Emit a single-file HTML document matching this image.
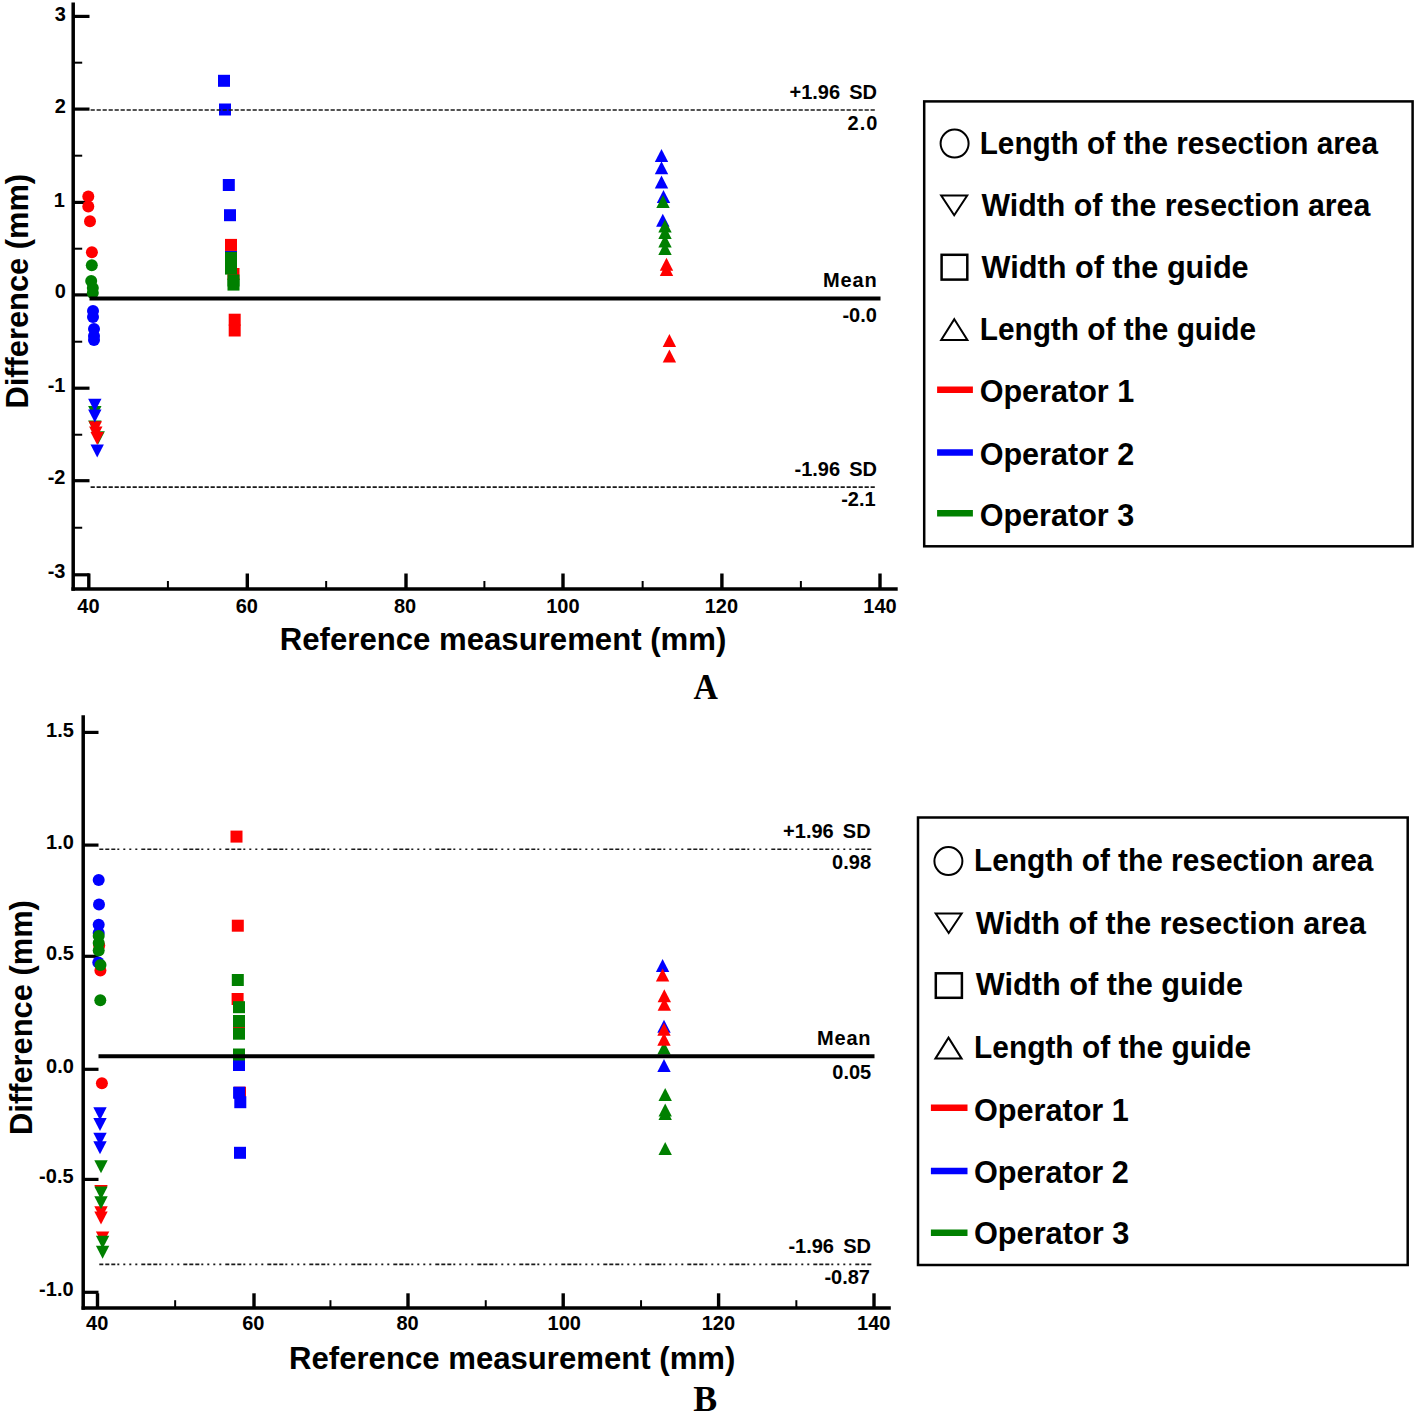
<!DOCTYPE html>
<html><head><meta charset="utf-8"><style>
html,body{margin:0;padding:0;background:#fff;}
body{width:1416px;height:1414px;overflow:hidden;}
svg{display:block;}
</style></head><body>
<svg width="1416" height="1414" viewBox="0 0 1416 1414">
<rect width="1416" height="1414" fill="#fff"/>
<line x1="73.20" y1="2.50" x2="73.20" y2="590.80" stroke="#000" stroke-width="3.5" />
<line x1="71.40" y1="589.00" x2="897.70" y2="589.00" stroke="#000" stroke-width="3.5" />
<line x1="73.20" y1="16.40" x2="89.50" y2="16.40" stroke="#000" stroke-width="3.2" />
<line x1="73.20" y1="109.10" x2="89.50" y2="109.10" stroke="#000" stroke-width="3.2" />
<line x1="73.20" y1="202.40" x2="89.50" y2="202.40" stroke="#000" stroke-width="3.2" />
<line x1="73.20" y1="294.90" x2="89.50" y2="294.90" stroke="#000" stroke-width="3.2" />
<line x1="73.20" y1="388.20" x2="89.50" y2="388.20" stroke="#000" stroke-width="3.2" />
<line x1="73.20" y1="480.70" x2="89.50" y2="480.70" stroke="#000" stroke-width="3.2" />
<line x1="73.20" y1="574.80" x2="89.50" y2="574.80" stroke="#000" stroke-width="3.2" />
<line x1="73.20" y1="62.68" x2="82.20" y2="62.68" stroke="#000" stroke-width="2" />
<line x1="73.20" y1="155.69" x2="82.20" y2="155.69" stroke="#000" stroke-width="2" />
<line x1="73.20" y1="248.70" x2="82.20" y2="248.70" stroke="#000" stroke-width="2" />
<line x1="73.20" y1="341.71" x2="82.20" y2="341.71" stroke="#000" stroke-width="2" />
<line x1="73.20" y1="434.73" x2="82.20" y2="434.73" stroke="#000" stroke-width="2" />
<line x1="73.20" y1="527.74" x2="82.20" y2="527.74" stroke="#000" stroke-width="2" />
<line x1="88.80" y1="589.00" x2="88.80" y2="573.50" stroke="#000" stroke-width="3.4" />
<line x1="247.30" y1="589.00" x2="247.30" y2="573.50" stroke="#000" stroke-width="3.4" />
<line x1="406.00" y1="589.00" x2="406.00" y2="573.50" stroke="#000" stroke-width="3.4" />
<line x1="563.00" y1="589.00" x2="563.00" y2="573.50" stroke="#000" stroke-width="3.4" />
<line x1="721.90" y1="589.00" x2="721.90" y2="573.50" stroke="#000" stroke-width="3.4" />
<line x1="880.00" y1="589.00" x2="880.00" y2="573.50" stroke="#000" stroke-width="3.4" />
<line x1="167.92" y1="589.00" x2="167.92" y2="581.00" stroke="#000" stroke-width="2" />
<line x1="326.16" y1="589.00" x2="326.16" y2="581.00" stroke="#000" stroke-width="2" />
<line x1="484.40" y1="589.00" x2="484.40" y2="581.00" stroke="#000" stroke-width="2" />
<line x1="642.64" y1="589.00" x2="642.64" y2="581.00" stroke="#000" stroke-width="2" />
<line x1="800.88" y1="589.00" x2="800.88" y2="581.00" stroke="#000" stroke-width="2" />
<circle cx="88.3" cy="196.5" r="6.0" fill="#FF0000"/>
<circle cx="88.3" cy="206.5" r="6.0" fill="#FF0000"/>
<circle cx="90" cy="221.3" r="6.0" fill="#FF0000"/>
<circle cx="91.9" cy="252.2" r="6.0" fill="#FF0000"/>
<circle cx="91.8" cy="265.2" r="6.0" fill="#008000"/>
<circle cx="91.2" cy="281" r="6.0" fill="#008000"/>
<circle cx="92.8" cy="288" r="6.0" fill="#008000"/>
<circle cx="92.8" cy="293" r="6.0" fill="#008000"/>
<circle cx="93" cy="311" r="6.0" fill="#0000FF"/>
<circle cx="93" cy="317" r="6.0" fill="#0000FF"/>
<circle cx="94" cy="329" r="6.0" fill="#0000FF"/>
<circle cx="94" cy="336" r="6.0" fill="#0000FF"/>
<circle cx="94" cy="340" r="6.0" fill="#0000FF"/>
<polygon points="88.10,406.00 101.50,406.00 94.80,419.00" fill="#008000"/>
<polygon points="88.10,420.40 101.50,420.40 94.80,433.40" fill="#008000"/>
<polygon points="91.50,431.20 104.90,431.20 98.20,444.20" fill="#008000"/>
<polygon points="88.60,421.30 102.00,421.30 95.30,434.30" fill="#FF0000"/>
<polygon points="89.10,426.50 102.50,426.50 95.80,439.50" fill="#FF0000"/>
<polygon points="90.50,432.00 103.90,432.00 97.20,445.00" fill="#FF0000"/>
<polygon points="88.10,398.80 101.50,398.80 94.80,411.80" fill="#0000FF"/>
<polygon points="88.10,409.60 101.50,409.60 94.80,422.60" fill="#0000FF"/>
<polygon points="90.50,444.60 103.90,444.60 97.20,457.60" fill="#0000FF"/>
<rect x="218.00" y="74.80" width="12.0" height="12.0" fill="#0000FF"/>
<rect x="219.00" y="103.50" width="12.0" height="12.0" fill="#0000FF"/>
<rect x="222.80" y="179.00" width="12.0" height="12.0" fill="#0000FF"/>
<rect x="224.00" y="209.20" width="12.0" height="12.0" fill="#0000FF"/>
<rect x="225.00" y="250.50" width="12.0" height="12.0" fill="#0000FF"/>
<rect x="225.00" y="238.90" width="12.0" height="12.0" fill="#FF0000"/>
<rect x="227.50" y="268.00" width="12.0" height="12.0" fill="#FF0000"/>
<rect x="228.70" y="313.70" width="12.0" height="12.0" fill="#FF0000"/>
<rect x="228.70" y="324.50" width="12.0" height="12.0" fill="#FF0000"/>
<rect x="225.00" y="251.80" width="12.0" height="12.0" fill="#008000"/>
<rect x="225.00" y="262.60" width="12.0" height="12.0" fill="#008000"/>
<rect x="227.50" y="274.50" width="12.0" height="12.0" fill="#008000"/>
<rect x="227.50" y="278.60" width="12.0" height="12.0" fill="#008000"/>
<polygon points="661.50,148.90 668.20,161.90 654.80,161.90" fill="#0000FF"/>
<polygon points="661.50,161.20 668.20,174.20 654.80,174.20" fill="#0000FF"/>
<polygon points="661.50,175.60 668.20,188.60 654.80,188.60" fill="#0000FF"/>
<polygon points="663.50,190.00 670.20,203.00 656.80,203.00" fill="#0000FF"/>
<polygon points="662.80,213.80 669.50,226.80 656.10,226.80" fill="#0000FF"/>
<polygon points="663.00,195.00 669.70,208.00 656.30,208.00" fill="#008000"/>
<polygon points="665.00,219.60 671.70,232.60 658.30,232.60" fill="#008000"/>
<polygon points="665.00,226.00 671.70,239.00 658.30,239.00" fill="#008000"/>
<polygon points="665.00,234.40 671.70,247.40 658.30,247.40" fill="#008000"/>
<polygon points="665.00,241.90 671.70,254.90 658.30,254.90" fill="#008000"/>
<polygon points="666.50,257.70 673.20,270.70 659.80,270.70" fill="#FF0000"/>
<polygon points="666.50,263.10 673.20,276.10 659.80,276.10" fill="#FF0000"/>
<polygon points="669.40,334.00 676.10,347.00 662.70,347.00" fill="#FF0000"/>
<polygon points="669.40,349.50 676.10,362.50 662.70,362.50" fill="#FF0000"/>
<line x1="90.60" y1="110.00" x2="876.30" y2="110.00" stroke="#1a1a1a" stroke-width="1.6" stroke-dasharray="4.2 1.8"/>
<line x1="90.60" y1="487.10" x2="876.30" y2="487.10" stroke="#1a1a1a" stroke-width="1.6" stroke-dasharray="4.2 1.8"/>
<line x1="89.50" y1="298.40" x2="880.50" y2="298.40" stroke="#000" stroke-width="4" />
<line x1="83.20" y1="715.20" x2="83.20" y2="1309.80" stroke="#000" stroke-width="3.5" />
<line x1="81.60" y1="1308.00" x2="890.80" y2="1308.00" stroke="#000" stroke-width="3.5" />
<line x1="83.20" y1="732.40" x2="98.50" y2="732.40" stroke="#000" stroke-width="3.2" />
<line x1="83.20" y1="845.10" x2="98.50" y2="845.10" stroke="#000" stroke-width="3.2" />
<line x1="83.20" y1="956.30" x2="98.50" y2="956.30" stroke="#000" stroke-width="3.2" />
<line x1="83.20" y1="1069.30" x2="98.50" y2="1069.30" stroke="#000" stroke-width="3.2" />
<line x1="83.20" y1="1179.40" x2="98.50" y2="1179.40" stroke="#000" stroke-width="3.2" />
<line x1="83.20" y1="1292.30" x2="98.50" y2="1292.30" stroke="#000" stroke-width="3.2" />
<line x1="97.50" y1="1308.00" x2="97.50" y2="1293.30" stroke="#000" stroke-width="3.4" />
<line x1="254.00" y1="1308.00" x2="254.00" y2="1293.30" stroke="#000" stroke-width="3.4" />
<line x1="408.00" y1="1308.00" x2="408.00" y2="1293.30" stroke="#000" stroke-width="3.4" />
<line x1="563.20" y1="1308.00" x2="563.20" y2="1293.30" stroke="#000" stroke-width="3.4" />
<line x1="718.60" y1="1308.00" x2="718.60" y2="1293.30" stroke="#000" stroke-width="3.4" />
<line x1="874.00" y1="1308.00" x2="874.00" y2="1293.30" stroke="#000" stroke-width="3.4" />
<line x1="175.15" y1="1308.00" x2="175.15" y2="1300.20" stroke="#000" stroke-width="2" />
<line x1="330.45" y1="1308.00" x2="330.45" y2="1300.20" stroke="#000" stroke-width="2" />
<line x1="485.75" y1="1308.00" x2="485.75" y2="1300.20" stroke="#000" stroke-width="2" />
<line x1="641.05" y1="1308.00" x2="641.05" y2="1300.20" stroke="#000" stroke-width="2" />
<line x1="796.35" y1="1308.00" x2="796.35" y2="1300.20" stroke="#000" stroke-width="2" />
<circle cx="98.7" cy="879.9" r="6.0" fill="#0000FF"/>
<circle cx="99" cy="904.5" r="6.0" fill="#0000FF"/>
<circle cx="98.7" cy="924.7" r="6.0" fill="#0000FF"/>
<circle cx="98.7" cy="933" r="6.0" fill="#0000FF"/>
<circle cx="98.3" cy="962.5" r="6.0" fill="#0000FF"/>
<circle cx="99.2" cy="945.5" r="6.0" fill="#FF0000"/>
<circle cx="100.4" cy="970.5" r="6.0" fill="#FF0000"/>
<circle cx="101.9" cy="1083.3" r="6.0" fill="#FF0000"/>
<circle cx="98.7" cy="936" r="6.0" fill="#008000"/>
<circle cx="98.7" cy="943" r="6.0" fill="#008000"/>
<circle cx="98.7" cy="950.5" r="6.0" fill="#008000"/>
<circle cx="100.5" cy="965" r="6.0" fill="#008000"/>
<circle cx="100.3" cy="1000.2" r="6.0" fill="#008000"/>
<polygon points="93.30,1107.30 106.70,1107.30 100.00,1120.30" fill="#0000FF"/>
<polygon points="93.30,1117.90 106.70,1117.90 100.00,1130.90" fill="#0000FF"/>
<polygon points="93.30,1132.70 106.70,1132.70 100.00,1145.70" fill="#0000FF"/>
<polygon points="93.30,1141.20 106.70,1141.20 100.00,1154.20" fill="#0000FF"/>
<polygon points="94.30,1185.00 107.70,1185.00 101.00,1198.00" fill="#FF0000"/>
<polygon points="94.30,1206.20 107.70,1206.20 101.00,1219.20" fill="#FF0000"/>
<polygon points="94.30,1211.50 107.70,1211.50 101.00,1224.50" fill="#FF0000"/>
<polygon points="95.90,1231.60 109.30,1231.60 102.60,1244.60" fill="#FF0000"/>
<polygon points="94.30,1160.30 107.70,1160.30 101.00,1173.30" fill="#008000"/>
<polygon points="94.30,1186.40 107.70,1186.40 101.00,1199.40" fill="#008000"/>
<polygon points="94.30,1196.30 107.70,1196.30 101.00,1209.30" fill="#008000"/>
<polygon points="95.90,1235.80 109.30,1235.80 102.60,1248.80" fill="#008000"/>
<polygon points="95.90,1245.70 109.30,1245.70 102.60,1258.70" fill="#008000"/>
<rect x="230.50" y="830.60" width="12.0" height="12.0" fill="#FF0000"/>
<rect x="231.80" y="919.70" width="12.0" height="12.0" fill="#FF0000"/>
<rect x="231.60" y="993.00" width="12.0" height="12.0" fill="#FF0000"/>
<rect x="233.00" y="1021.00" width="12.0" height="12.0" fill="#FF0000"/>
<rect x="234.00" y="1086.70" width="12.0" height="12.0" fill="#FF0000"/>
<rect x="233.00" y="1059.00" width="12.0" height="12.0" fill="#0000FF"/>
<rect x="233.10" y="1086.70" width="12.0" height="12.0" fill="#0000FF"/>
<rect x="234.30" y="1096.20" width="12.0" height="12.0" fill="#0000FF"/>
<rect x="234.00" y="1146.80" width="12.0" height="12.0" fill="#0000FF"/>
<rect x="231.80" y="974.00" width="12.0" height="12.0" fill="#008000"/>
<rect x="233.00" y="1001.20" width="12.0" height="12.0" fill="#008000"/>
<rect x="233.00" y="1015.00" width="12.0" height="12.0" fill="#008000"/>
<rect x="233.00" y="1027.70" width="12.0" height="12.0" fill="#008000"/>
<rect x="233.00" y="1048.50" width="12.0" height="12.0" fill="#008000"/>
<polygon points="662.60,958.90 669.30,971.90 655.90,971.90" fill="#0000FF"/>
<polygon points="664.00,1019.70 670.70,1032.70 657.30,1032.70" fill="#0000FF"/>
<polygon points="664.00,1059.00 670.70,1072.00 657.30,1072.00" fill="#0000FF"/>
<polygon points="664.00,1041.60 670.70,1054.60 657.30,1054.60" fill="#008000"/>
<polygon points="665.20,1088.00 671.90,1101.00 658.50,1101.00" fill="#008000"/>
<polygon points="665.20,1103.60 671.90,1116.60 658.50,1116.60" fill="#008000"/>
<polygon points="665.20,1107.00 671.90,1120.00 658.50,1120.00" fill="#008000"/>
<polygon points="665.20,1142.10 671.90,1155.10 658.50,1155.10" fill="#008000"/>
<polygon points="662.60,968.50 669.30,981.50 655.90,981.50" fill="#FF0000"/>
<polygon points="664.30,989.30 671.00,1002.30 657.60,1002.30" fill="#FF0000"/>
<polygon points="664.30,997.80 671.00,1010.80 657.60,1010.80" fill="#FF0000"/>
<polygon points="664.00,1022.70 670.70,1035.70 657.30,1035.70" fill="#FF0000"/>
<polygon points="664.00,1032.70 670.70,1045.70 657.30,1045.70" fill="#FF0000"/>
<line x1="99.30" y1="849.20" x2="871.90" y2="849.20" stroke="#1a1a1a" stroke-width="1.6" stroke-dasharray="4 2 4 2 4 2 2 4 2 4 2 4 2 4"/>
<line x1="99.30" y1="1264.40" x2="871.80" y2="1264.40" stroke="#1a1a1a" stroke-width="1.6" stroke-dasharray="4 2 4 2 4 2 2 4 2 4 2 4 2 4"/>
<line x1="98.50" y1="1056.20" x2="874.50" y2="1056.20" stroke="#000" stroke-width="4" />
<rect x="924.2" y="101.4" width="488.4" height="444.9" fill="none" stroke="#000" stroke-width="2.5"/>
<circle cx="954.6" cy="143.6" r="14" fill="none" stroke="#000" stroke-width="2"/><polygon points="941.2,195.6 967.2,195.6 954.2,215.2" fill="none" stroke="#000" stroke-width="2"/><rect x="941.6" y="254.8" width="25.7" height="24.8" fill="none" stroke="#000" stroke-width="2.5"/><polygon points="954.3,319.2 967.4,340 941.2,340" fill="none" stroke="#000" stroke-width="2"/><line x1="937.1" y1="389.7" x2="972.9" y2="389.7" stroke="#FF0000" stroke-width="6.5"/><line x1="937.1" y1="452.4" x2="972.9" y2="452.4" stroke="#0000FF" stroke-width="6.5"/><line x1="937.1" y1="513.3" x2="972.9" y2="513.3" stroke="#008000" stroke-width="6.5"/>
<rect x="918" y="817.5" width="489.7" height="447.5" fill="none" stroke="#000" stroke-width="2.5"/>
<circle cx="948.4" cy="861.1" r="14" fill="none" stroke="#000" stroke-width="2"/><polygon points="935.7,913.5 961.7,913.5 948.7,933" fill="none" stroke="#000" stroke-width="2"/><rect x="935.8" y="973.3" width="26.1" height="24.5" fill="none" stroke="#000" stroke-width="2.5"/><polygon points="948.5,1037.6 961.6,1058.6 935.4,1058.6" fill="none" stroke="#000" stroke-width="2"/><line x1="930.9" y1="1107.7" x2="967.5" y2="1107.7" stroke="#FF0000" stroke-width="6.5"/><line x1="930.9" y1="1171" x2="967.5" y2="1171" stroke="#0000FF" stroke-width="6.5"/><line x1="930.9" y1="1232.7" x2="967.5" y2="1232.7" stroke="#008000" stroke-width="6.5"/>
<text x="54.70" y="20.80" font-family='"Liberation Sans", sans-serif' font-weight="bold" font-size="20" letter-spacing="0" xml:space="preserve">3</text>
<text x="54.70" y="113.00" font-family='"Liberation Sans", sans-serif' font-weight="bold" font-size="20" letter-spacing="0" xml:space="preserve">2</text>
<text x="53.70" y="206.70" font-family='"Liberation Sans", sans-serif' font-weight="bold" font-size="20" letter-spacing="0" xml:space="preserve">1</text>
<text x="54.70" y="297.80" font-family='"Liberation Sans", sans-serif' font-weight="bold" font-size="20" letter-spacing="0" xml:space="preserve">0</text>
<text x="47.70" y="391.60" font-family='"Liberation Sans", sans-serif' font-weight="bold" font-size="20" letter-spacing="0" xml:space="preserve">-1</text>
<text x="47.70" y="484.00" font-family='"Liberation Sans", sans-serif' font-weight="bold" font-size="20" letter-spacing="0" xml:space="preserve">-2</text>
<text x="47.70" y="577.80" font-family='"Liberation Sans", sans-serif' font-weight="bold" font-size="20" letter-spacing="0" xml:space="preserve">-3</text>
<text x="77.35" y="612.50" font-family='"Liberation Sans", sans-serif' font-weight="bold" font-size="20" letter-spacing="0" xml:space="preserve">40</text>
<text x="235.70" y="612.50" font-family='"Liberation Sans", sans-serif' font-weight="bold" font-size="20" letter-spacing="0" xml:space="preserve">60</text>
<text x="393.90" y="612.50" font-family='"Liberation Sans", sans-serif' font-weight="bold" font-size="20" letter-spacing="0" xml:space="preserve">80</text>
<text x="546.25" y="612.50" font-family='"Liberation Sans", sans-serif' font-weight="bold" font-size="20" letter-spacing="0" xml:space="preserve">100</text>
<text x="704.70" y="612.50" font-family='"Liberation Sans", sans-serif' font-weight="bold" font-size="20" letter-spacing="0" xml:space="preserve">120</text>
<text x="863.35" y="612.50" font-family='"Liberation Sans", sans-serif' font-weight="bold" font-size="20" letter-spacing="0" xml:space="preserve">140</text>
<text x="789.50" y="98.70" font-family='"Liberation Sans", sans-serif' font-weight="bold" font-size="20" letter-spacing="0" xml:space="preserve">+1.96 <tspan dx="3.6">SD</tspan></text>
<text x="847.60" y="129.90" font-family='"Liberation Sans", sans-serif' font-weight="bold" font-size="20" letter-spacing="1" xml:space="preserve">2.0</text>
<text x="823.10" y="287.20" font-family='"Liberation Sans", sans-serif' font-weight="bold" font-size="20" letter-spacing="0.8" xml:space="preserve">Mean</text>
<text x="842.40" y="321.80" font-family='"Liberation Sans", sans-serif' font-weight="bold" font-size="20" letter-spacing="0" xml:space="preserve">-0.0</text>
<text x="794.50" y="475.70" font-family='"Liberation Sans", sans-serif' font-weight="bold" font-size="20" letter-spacing="0" xml:space="preserve">-1.96 <tspan dx="3.6">SD</tspan></text>
<text x="841.20" y="505.90" font-family='"Liberation Sans", sans-serif' font-weight="bold" font-size="20" letter-spacing="0" xml:space="preserve">-2.1</text>
<text x="279.80" y="650.10" font-family='"Liberation Sans", sans-serif' font-weight="bold" font-size="31" letter-spacing="0" xml:space="preserve" textLength="446.53" lengthAdjust="spacingAndGlyphs">Reference measurement (mm)</text>
<text x="0" y="0" transform="translate(28.00,408.60) rotate(-90)" font-family='"Liberation Sans", sans-serif' font-weight="bold" font-size="31.5" xml:space="preserve" textLength="234.73" lengthAdjust="spacingAndGlyphs">Difference (mm)</text>
<text x="693.40" y="699.00" font-family='"Liberation Serif", serif' font-weight="bold" font-size="36.5" letter-spacing="0" xml:space="preserve" textLength="24.43" lengthAdjust="spacingAndGlyphs">A</text>
<text x="46.10" y="736.80" font-family='"Liberation Sans", sans-serif' font-weight="bold" font-size="20" letter-spacing="0" xml:space="preserve">1.5</text>
<text x="46.10" y="848.60" font-family='"Liberation Sans", sans-serif' font-weight="bold" font-size="20" letter-spacing="0" xml:space="preserve">1.0</text>
<text x="46.10" y="960.10" font-family='"Liberation Sans", sans-serif' font-weight="bold" font-size="20" letter-spacing="0" xml:space="preserve">0.5</text>
<text x="46.10" y="1072.50" font-family='"Liberation Sans", sans-serif' font-weight="bold" font-size="20" letter-spacing="0" xml:space="preserve">0.0</text>
<text x="39.10" y="1183.20" font-family='"Liberation Sans", sans-serif' font-weight="bold" font-size="20" letter-spacing="0" xml:space="preserve">-0.5</text>
<text x="39.10" y="1296.40" font-family='"Liberation Sans", sans-serif' font-weight="bold" font-size="20" letter-spacing="0" xml:space="preserve">-1.0</text>
<text x="86.05" y="1329.90" font-family='"Liberation Sans", sans-serif' font-weight="bold" font-size="20" letter-spacing="0" xml:space="preserve">40</text>
<text x="242.20" y="1329.90" font-family='"Liberation Sans", sans-serif' font-weight="bold" font-size="20" letter-spacing="0" xml:space="preserve">60</text>
<text x="396.40" y="1329.90" font-family='"Liberation Sans", sans-serif' font-weight="bold" font-size="20" letter-spacing="0" xml:space="preserve">80</text>
<text x="547.60" y="1329.90" font-family='"Liberation Sans", sans-serif' font-weight="bold" font-size="20" letter-spacing="0" xml:space="preserve">100</text>
<text x="701.70" y="1329.90" font-family='"Liberation Sans", sans-serif' font-weight="bold" font-size="20" letter-spacing="0" xml:space="preserve">120</text>
<text x="857.05" y="1329.90" font-family='"Liberation Sans", sans-serif' font-weight="bold" font-size="20" letter-spacing="0" xml:space="preserve">140</text>
<text x="783.10" y="837.50" font-family='"Liberation Sans", sans-serif' font-weight="bold" font-size="20" letter-spacing="0" xml:space="preserve">+1.96 <tspan dx="3.6">SD</tspan></text>
<text x="832.10" y="868.70" font-family='"Liberation Sans", sans-serif' font-weight="bold" font-size="20" letter-spacing="0" xml:space="preserve">0.98</text>
<text x="817.00" y="1045.00" font-family='"Liberation Sans", sans-serif' font-weight="bold" font-size="20" letter-spacing="0.8" xml:space="preserve">Mean</text>
<text x="832.30" y="1078.50" font-family='"Liberation Sans", sans-serif' font-weight="bold" font-size="20" letter-spacing="0" xml:space="preserve">0.05</text>
<text x="788.40" y="1253.20" font-family='"Liberation Sans", sans-serif' font-weight="bold" font-size="20" letter-spacing="0" xml:space="preserve">-1.96 <tspan dx="3.6">SD</tspan></text>
<text x="824.40" y="1284.20" font-family='"Liberation Sans", sans-serif' font-weight="bold" font-size="20" letter-spacing="0" xml:space="preserve">-0.87</text>
<text x="289.00" y="1369.30" font-family='"Liberation Sans", sans-serif' font-weight="bold" font-size="31" letter-spacing="0" xml:space="preserve" textLength="446.43" lengthAdjust="spacingAndGlyphs">Reference measurement (mm)</text>
<text x="0" y="0" transform="translate(31.70,1134.90) rotate(-90)" font-family='"Liberation Sans", sans-serif' font-weight="bold" font-size="31.5" xml:space="preserve" textLength="234.73" lengthAdjust="spacingAndGlyphs">Difference (mm)</text>
<text x="693.20" y="1411.10" font-family='"Liberation Serif", serif' font-weight="bold" font-size="36.5" letter-spacing="0" xml:space="preserve" textLength="23.92" lengthAdjust="spacingAndGlyphs">B</text>
<text x="979.70" y="153.80" font-family='"Liberation Sans", sans-serif' font-weight="bold" font-size="31.5" letter-spacing="0" xml:space="preserve" textLength="398.24" lengthAdjust="spacingAndGlyphs">Length of the resection area</text>
<text x="981.50" y="215.80" font-family='"Liberation Sans", sans-serif' font-weight="bold" font-size="31.5" letter-spacing="0" xml:space="preserve" textLength="388.75" lengthAdjust="spacingAndGlyphs">Width of the resection area</text>
<text x="981.50" y="277.60" font-family='"Liberation Sans", sans-serif' font-weight="bold" font-size="31.5" letter-spacing="0" xml:space="preserve" textLength="267.18" lengthAdjust="spacingAndGlyphs">Width of the guide</text>
<text x="979.70" y="340.10" font-family='"Liberation Sans", sans-serif' font-weight="bold" font-size="31.5" letter-spacing="0" xml:space="preserve" textLength="276.45" lengthAdjust="spacingAndGlyphs">Length of the guide</text>
<text x="979.70" y="402.40" font-family='"Liberation Sans", sans-serif' font-weight="bold" font-size="31.5" letter-spacing="0" xml:space="preserve" textLength="154.54" lengthAdjust="spacingAndGlyphs">Operator 1</text>
<text x="979.70" y="464.80" font-family='"Liberation Sans", sans-serif' font-weight="bold" font-size="31.5" letter-spacing="0" xml:space="preserve" textLength="154.54" lengthAdjust="spacingAndGlyphs">Operator 2</text>
<text x="979.70" y="526.00" font-family='"Liberation Sans", sans-serif' font-weight="bold" font-size="31.5" letter-spacing="0" xml:space="preserve" textLength="154.54" lengthAdjust="spacingAndGlyphs">Operator 3</text>
<text x="974.00" y="871.20" font-family='"Liberation Sans", sans-serif' font-weight="bold" font-size="31.5" letter-spacing="0" xml:space="preserve" textLength="399.35" lengthAdjust="spacingAndGlyphs">Length of the resection area</text>
<text x="975.80" y="933.70" font-family='"Liberation Sans", sans-serif' font-weight="bold" font-size="31.5" letter-spacing="0" xml:space="preserve" textLength="390.05" lengthAdjust="spacingAndGlyphs">Width of the resection area</text>
<text x="975.80" y="995.10" font-family='"Liberation Sans", sans-serif' font-weight="bold" font-size="31.5" letter-spacing="0" xml:space="preserve" textLength="267.28" lengthAdjust="spacingAndGlyphs">Width of the guide</text>
<text x="974.00" y="1057.60" font-family='"Liberation Sans", sans-serif' font-weight="bold" font-size="31.5" letter-spacing="0" xml:space="preserve" textLength="277.25" lengthAdjust="spacingAndGlyphs">Length of the guide</text>
<text x="973.90" y="1121.20" font-family='"Liberation Sans", sans-serif' font-weight="bold" font-size="31.5" letter-spacing="0" xml:space="preserve" textLength="154.95" lengthAdjust="spacingAndGlyphs">Operator 1</text>
<text x="973.90" y="1182.60" font-family='"Liberation Sans", sans-serif' font-weight="bold" font-size="31.5" letter-spacing="0" xml:space="preserve" textLength="154.95" lengthAdjust="spacingAndGlyphs">Operator 2</text>
<text x="973.90" y="1244.00" font-family='"Liberation Sans", sans-serif' font-weight="bold" font-size="31.5" letter-spacing="0" xml:space="preserve" textLength="155.36" lengthAdjust="spacingAndGlyphs">Operator 3</text>
</svg>
</body></html>
